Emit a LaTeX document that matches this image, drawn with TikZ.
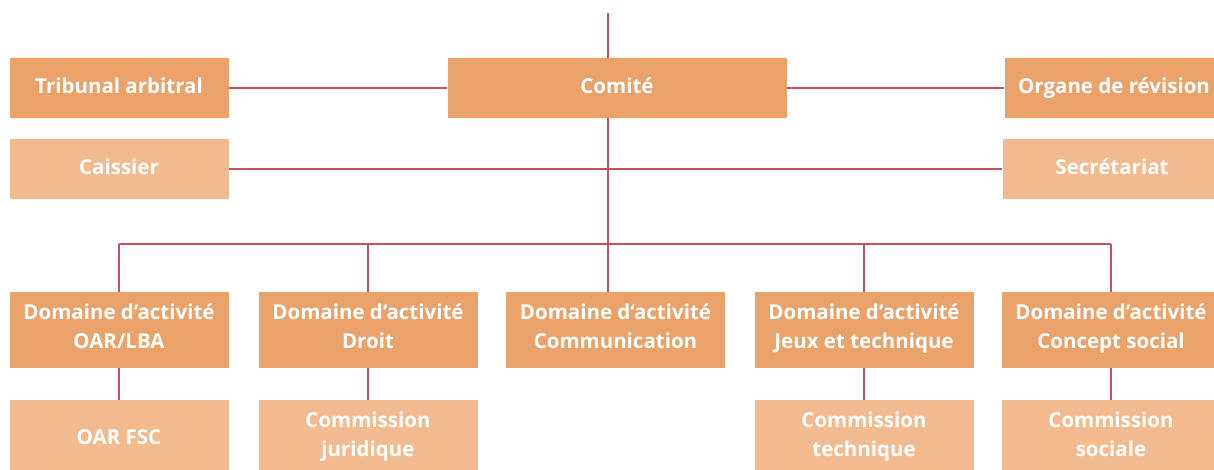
\documentclass[tikz,border=0pt]{standalone}
\usepackage{fontspec}
\setsansfont{Open Sans}
\usetikzlibrary{calc}
\definecolor{boxdark}{HTML}{EAA26B}
\definecolor{boxlight}{HTML}{F2BB8F}
\definecolor{linkred}{HTML}{C9505F}
\tikzstyle{unit} = [rectangle, minimum width=219pt, minimum height=60pt, inner sep=0pt, text=white, align=center, font=\sffamily\bfseries\fontsize{20.5}{29}\selectfont, execute at begin node=\strut, execute at end node=\strut]
\tikzstyle{head} = [unit, fill=boxdark]
\tikzstyle{staff} = [unit, fill=boxlight]
\tikzstyle{link} = [draw=linkred, line width=1.3pt]

\begin{document}
\begin{tikzpicture}[x=1pt,y=1pt]
    \useasboundingbox (0,0) rectangle (1214,469);
    % top level
    \node [head, minimum width=339pt] (comite) at (617,381) {Comité};
    \node [head] (tribunal) at (119,381) {Tribunal arbitral};
    \node [head] (organe) at (1114,381) {Organe de révision};
    \node [staff] (caissier) at (119,300) {Caissier};
    \node [staff] (secretariat) at (1112,300) {Secrétariat};
    % domaines
    \node [head, minimum height=76pt] (oar) at (119,139) {Domaine d‘activité\\OAR/LBA};
    \node [head, minimum height=76pt] (droit) at (368,139) {Domaine d‘activité\\Droit};
    \node [head, minimum height=76pt] (comm) at (615.5,139) {Domaine d‘activité\\Communication};
    \node [head, minimum height=76pt] (jeux) at (864,139) {Domaine d‘activité\\Jeux et technique};
    \node [head, minimum height=76pt] (social) at (1111,139) {Domaine d‘activité\\Concept social};
    % commissions
    \node [staff, minimum height=78pt] (fsc) at (119,30) {OAR FSC};
    \node [staff, minimum height=78pt] (juri) at (368,30) {Commission\\juridique};
    \node [staff, minimum height=78pt] (tech) at (864,30) {Commission\\technique};
    \node [staff, minimum height=78pt] (soc) at (1111,30) {Commission\\sociale};
    % lines
    \coordinate (top) at (608,456);
    \coordinate (bus) at (608,225);
    \draw [link] (top) -- (top |- comite.north);
    \draw [link] (bus |- comite.south) -- (bus);
    \draw [link] (tribunal) -- (comite);
    \draw [link] (comite) -- (organe);
    \draw [link] (caissier) -- (secretariat);
    \draw [link] (oar.north |- bus) -- (social.north |- bus);
    \draw [link] (oar.north |- bus) -- (oar.north);
    \draw [link] (droit.north |- bus) -- (droit.north);
    \draw [link] (bus) -- (bus |- comm.north);
    \draw [link] (jeux.north |- bus) -- (jeux.north);
    \draw [link] (social.north |- bus) -- (social.north);
    \draw [link] (oar) -- (fsc);
    \draw [link] (droit) -- (juri);
    \draw [link] (jeux) -- (tech);
    \draw [link] (social) -- (soc);
\end{tikzpicture}
\end{document}
